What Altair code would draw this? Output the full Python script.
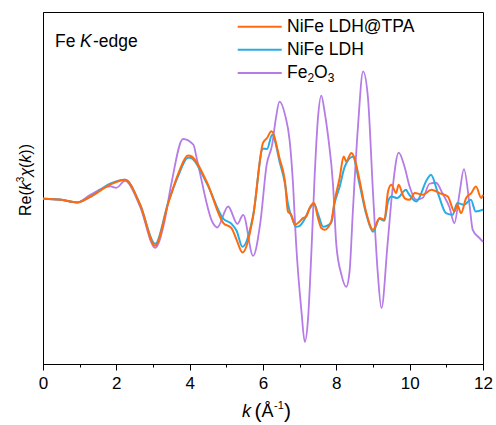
import altair as alt
import pandas as pd

# ---- data (y in arbitrary units) ----
k_tpa = [0, 0.5, 0.93, 1.29, 1.83, 2.24, 2.65, 3.06, 3.42, 3.7, 3.95, 4.01, 4.46, 4.92, 5.14, 5.28,
         5.44, 5.73, 6.0, 6.11, 6.23, 6.46, 6.6, 6.68, 6.77, 6.87, 7.0, 7.09, 7.18, 7.27, 7.39,
         7.5, 7.59, 7.68, 7.86, 7.95, 8.09, 8.2, 8.27, 8.41, 8.48, 8.63, 8.82, 9.0, 9.18, 9.31,
         9.41, 9.5, 9.63, 9.7, 9.81, 9.86, 9.99, 10.14, 10.36, 10.59, 10.81, 11.04, 11.22, 11.3,
         11.4, 11.54, 11.68, 11.81, 11.95, 12.0]
v_tpa = [0, -1, -3.7, 2, 14, 19, -6, -47, -4, 26, 43.3, 43, 17.3, -24.3, -29.3, -41,
         -53.7, -17.7, 55.7, 60.7, 67.3, 39, 17, -12.7, -16, -26, -22.7, -19.3, -17.7, -9.3, -4.3,
         -19.3, -29.3, -31, -22.7, -2.7, 20.7, 42.3, 37.3, 45.7, 42, 19, -14.3, -31, -19.3, -21,
         7.3, 14, 5.7, 14, 4, 0.7, -1, 5.7, 4, 9, 5.7, 2.3, -12.7, -6,
         -14.3, 0.7, 5.7, 12.3, 0.7, 4]

k_ldh = [0, 0.5, 0.93, 1.29, 1.83, 2.24, 2.65, 3.06, 3.42, 3.7, 3.95, 4.01, 4.46, 4.92, 5.14, 5.28,
         5.44, 5.73, 6.0, 6.11, 6.25, 6.46, 6.6, 6.68, 6.82, 6.9, 7.0, 7.14, 7.27, 7.39, 7.5,
         7.64, 7.86, 7.95, 8.09, 8.23, 8.45, 8.63, 8.82, 9.0, 9.18, 9.31, 9.41, 9.5, 9.66, 9.9,
         9.96, 10.18, 10.47, 10.58, 10.77, 10.99, 11.17, 11.3, 11.48, 11.67, 11.8, 12.0]
v_ldh = [0, -1, -3.7, 2, 15, 19, -6, -45, -3, 24, 41, 41, 16, -20, -25, -32,
         -48, -17, 50, 49.7, 64, 36, 15, -5, -22, -28, -27, -20, -10, -5, -15,
         -28, -24, -5, 12, 32, 42, 15, -16, -33, -20, -22, -2.7, 2.3, 0.7, 9,
         5.7, -2.7, 19, 24, 5.7, -14.3, -16, -4.3, -6, -1, -12.7, -11]

k_fe2o3 = [0, 0.5, 0.93, 1.29, 1.83, 2.0, 2.24, 2.65, 3.06, 3.3, 3.5, 3.82, 4.1, 4.2, 4.63, 4.75,
           5.05, 5.3, 5.46, 5.73, 5.93, 6.1, 6.25, 6.35, 6.45, 6.6, 6.73, 6.82, 6.9, 7.05, 7.14,
           7.23, 7.32, 7.41, 7.5, 7.59, 7.68, 7.77, 7.91, 8.0, 8.14, 8.27, 8.36, 8.45, 8.59,
           8.73, 8.86, 9.0, 9.13, 9.23, 9.4, 9.54, 9.7, 9.86, 10.0, 10.18, 10.36, 10.54, 10.72,
           10.9, 11.08, 11.22, 11.36, 11.48, 11.63, 11.72, 11.9, 12.0]
v_fe2o3 = [0, -1, -3.7, 4, 12.3, 11, 18, -8, -49, -25, 15, 59.7, 54, 39, -24, -28.7,
           -7.7, -25, -16, -57, -23, 34, 54, 80, 97, 84, 57, 14, -43, -113, -143,
           -119, -53, 24, 81, 103, 87, 64, 14, -46, -76, -88, -73, -13, 72,
           127.3, 102, 6, -74, -109.3, -44, 12, 46, 32, 12, -1, 1, 15, 16,
           5, -8, -24.3, 5.7, 29.5, -5, -31, -39, -43]

series_names = ["NiFe LDH@TPA", "NiFe LDH", "Fe2O3"]
series_colors = ["#FF6A0E", "#27ADE3", "#B57BE6"]
x_ticks = list(range(13))

FONT = "Liberation Sans"
W, H = 440, 352

x_enc = alt.X(
    "k:Q",
    scale=alt.Scale(domain=[0, 12], nice=False),
    axis=alt.Axis(
        values=x_ticks,
        labelExpr="datum.value % 2 == 0 ? datum.label : ''",
        tickSize={"condition": {"test": "datum.value % 2 == 1", "value": 3}, "value": 6},
        title=None, grid=False, domainColor="black", tickColor="black",
        labelColor="black", labelFont=FONT, labelFontSize=17, labelPadding=5,
        labelFlush=False,
    ),
)
y_enc = alt.Y(
    "v:Q",
    scale=alt.Scale(domain=[-165, 186.5], nice=False, zero=False),
    axis=alt.Axis(labels=False, ticks=False, title=None, grid=False, domainColor="black"),
)


def line(ks, vs, color, width):
    df = pd.DataFrame({"k": ks, "v": vs})
    return alt.Chart(df).mark_line(color=color, strokeWidth=width, interpolate="monotone").encode(
        x=x_enc, y=y_enc
    )


one = pd.DataFrame({"d": [0]})


def txt(s, x, y, size=17, style="normal", baseline="alphabetic", angle=0, align="left"):
    kw = dict(text=s, font=FONT, fontSize=size, fontStyle=style, color="black",
              baseline=baseline, align=align)
    if angle:
        kw["angle"] = angle
    return alt.Chart(one).mark_text(**kw).encode(x=alt.value(x), y=alt.value(y))


def leg_rule(color, y):
    return alt.Chart(one).mark_rule(color=color, strokeWidth=2).encode(
        x=alt.value(194.7), x2=alt.value(238.7), y=alt.value(y)
    )


layers = [
    line(k_fe2o3, v_fe2o3, series_colors[2], 1.8),
    line(k_ldh, v_ldh, series_colors[1], 2),
    line(k_tpa, v_tpa, series_colors[0], 2),
    # panel label
    txt("Fe", 12, 34.7, size=17.5),
    txt("K", 37, 34.7, size=17.5, style="italic"),
    txt("-edge", 50, 34.7, size=17.5),
    # legend
    leg_rule(series_colors[0], 14.7),
    leg_rule(series_colors[1], 37.7),
    leg_rule(series_colors[2], 61),
    txt("NiFe LDH@TPA", 244, 14.7, size=17.5, baseline="middle"),
    txt("NiFe LDH", 244, 37.7, size=17.5, baseline="middle"),
    txt("Fe", 244, 61, size=17.5, baseline="middle"),
    txt("2", 264.4, 66, size=12, baseline="middle"),
    txt("O", 271.1, 61, size=17.5, baseline="middle"),
    txt("3", 284.7, 66, size=12, baseline="middle"),
    # x title
    txt("k", 199, 405, size=18, style="italic"),
    txt("(", 211.5, 406, size=21),
    txt("Å", 218.5, 405, size=18),
    txt("-1", 231, 397, size=11),
    txt(")", 241, 406, size=21),
    # y title (rotated)
    txt("Re(", -12, 204, size=16, angle=270),
    txt("k", -12, 178.2, size=16, style="italic", angle=270),
    txt("3", -19, 170.2, size=10, angle=270),
    txt("χ", -12, 164.6, size=16, style="italic", angle=270),
    txt("(", -12, 156, size=16, angle=270),
    txt("k", -12, 150.7, size=16, style="italic", angle=270),
    txt("))", -12, 142.7, size=16, angle=270),
]

chart = (
    alt.layer(*layers)
    .properties(
        width=W, height=H,
        autosize=alt.AutoSizeParams(type="none"),
        padding={"left": 43, "top": 12, "right": 13, "bottom": 61},
        background="white",
    )
    .configure_view(stroke="black", strokeWidth=1)
)

chart.save("out.html", embed_options={"renderer": "svg", "actions": False})
